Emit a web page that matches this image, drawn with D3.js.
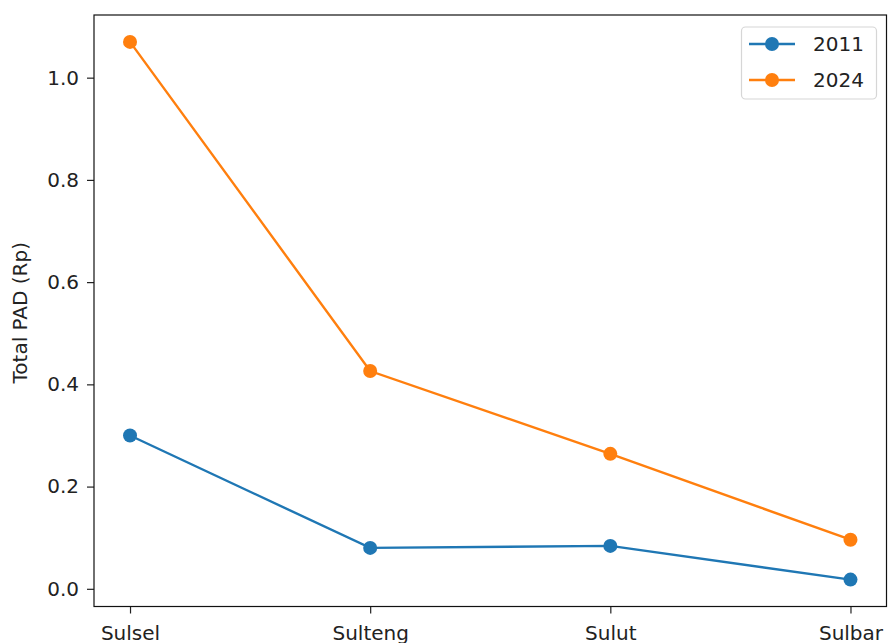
<!DOCTYPE html>
<html><head><meta charset="utf-8">
<script src="https://cdn.jsdelivr.net/npm/d3@7"></script>
<style>body{margin:0;background:#fff}svg{display:block}text{font-family:"DejaVu Sans",sans-serif;fill:#222}</style>
</head><body><svg id="c" width="889" height="643"></svg>
<script>
const categories = ["Sulsel","Sulteng","Sulut","Sulbar"];
const series2011 = [0.300, 0.080, 0.084, 0.018];
const series2024 = [1.070, 0.426, 0.264, 0.096];
const yTicks = [0.0, 0.2, 0.4, 0.6, 0.8, 1.0];
const seriesNames = ["2011","2024"];
const colors = ["#1f77b4","#ff7f0e"];

const svg = d3.select("#c");
const L = 94, R = 886.5, T = 15, B = 606.5;
const fs = 20;
const x = d3.scaleLinear().domain([-0.15, 3.15]).range([L, R]);
const yMin = -0.0346, yMax = 1.1226;
const y = d3.scaleLinear().domain([yMin, yMax]).range([B, T]);

// Axes
const gx = svg.append("g").attr("transform", `translate(0,${B})`)
  .call(d3.axisBottom(x).tickValues(d3.range(categories.length)).tickFormat(i => categories[i]).tickSize(7).tickPadding(7));
const gy = svg.append("g").attr("transform", `translate(${L},0)`)
  .call(d3.axisLeft(y).tickValues(yTicks).tickFormat(d3.format(".1f")).tickSize(7).tickPadding(8));
[gx, gy].forEach(g => {
  g.select(".domain").remove();
  g.selectAll(".tick line").attr("stroke", "#222").attr("stroke-width", 1.2);
  g.selectAll(".tick text").attr("font-size", fs).attr("fill", "#222").style("font-family", "DejaVu Sans");
});
gx.selectAll(".tick text").attr("dy", "0.95em");
svg.append("rect").attr("x", L).attr("y", T).attr("width", R - L).attr("height", B - T)
  .attr("fill", "none").attr("stroke", "#111").attr("stroke-width", 1.2);

svg.append("text").attr("transform", `translate(27,${(T+B)/2 + 2}) rotate(-90)`)
  .attr("text-anchor", "middle").attr("font-size", fs).text("Total PAD (Rp)");

const line = d3.line().x((d, i) => x(i)).y(d => y(d));
[series2011, series2024].forEach((s, k) => {
  svg.append("path").datum(s).attr("d", line).attr("fill", "none")
    .attr("stroke", colors[k]).attr("stroke-width", 2.4);
  svg.selectAll(null).data(s).enter().append("circle")
    .attr("cx", (d, i) => x(i)).attr("cy", d => y(d)).attr("r", 7).attr("fill", colors[k]);
});

// Legend
const lg = svg.append("g");
lg.append("rect").attr("x", 741.5).attr("y", 27).attr("width", 135).attr("height", 72)
  .attr("rx", 4).attr("fill", "#fff").attr("fill-opacity", 0.8).attr("stroke", "#d6d6d6").attr("stroke-width", 1.2);
seriesNames.forEach((n, k) => {
  const cy = 44 + k * 36;
  lg.append("line").attr("x1", 749).attr("x2", 795).attr("y1", cy).attr("y2", cy)
    .attr("stroke", colors[k]).attr("stroke-width", 2.4);
  lg.append("circle").attr("cx", 772).attr("cy", cy).attr("r", 7).attr("fill", colors[k]);
  lg.append("text").attr("x", 813).attr("y", cy).attr("dy", "0.36em").attr("font-size", fs).text(n);
});
</script></body></html>
